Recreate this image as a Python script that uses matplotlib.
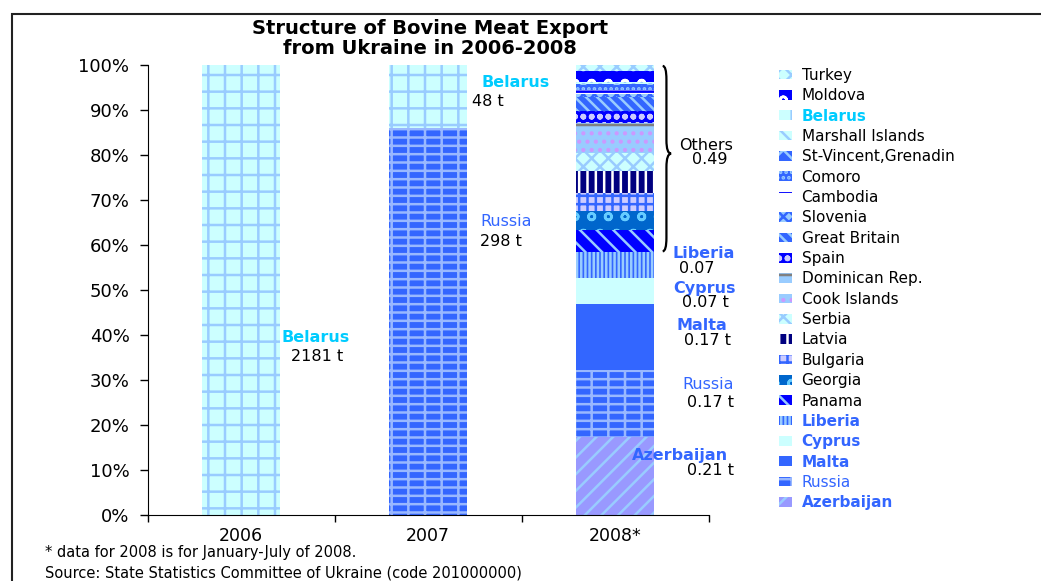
import numpy as np
import matplotlib.pyplot as plt
from matplotlib.path import Path
from matplotlib.patches import PathPatch, Rectangle

# countries from bottom of the stack to top
countries = ['Azerbaijan', 'Russia', 'Malta', 'Cyprus', 'Liberia', 'Panama',
             'Georgia', 'Bulgaria', 'Latvia', 'Serbia', 'Cook Islands',
             'Dominican Rep.', 'Spain', 'Great Britain', 'Slovenia', 'Cambodia',
             'Comoro', 'St-Vincent,Grenadin', 'Marshall Islands', 'Belarus',
             'Moldova', 'Turkey']
years = ['2006', '2007', '2008*']

# shares in %
share_2006 = [0, 0, 0, 0, 0, 0, 0, 0, 0, 0, 0, 0, 0, 0, 0, 0, 0, 0, 0, 100, 0, 0]
share_2007 = [0, 86, 0, 0, 0, 0, 0, 0, 0, 0, 0, 0, 0, 0, 0, 0, 0, 0, 0, 14, 0, 0]
share_2008 = [17.4, 14.8, 14.8, 5.7, 5.8, 4.8, 4.3, 4.0, 4.9, 4.0, 4.9,
              1.7, 2.6, 3.1, 0.8, 0.9, 1.0, 0.3, 0.2, 0.3, 2.3, 1.4]

# fill colour, hatch, hatch colour
styles = {
    'Azerbaijan': ('#9999FF', '//', '#99CCFF'),
    'Russia': ('#3366FF', '--|', '#99B8FF'),
    'Malta': ('#3366FF', None, '#3366FF'),
    'Cyprus': ('#CCFFFF', None, '#CCFFFF'),
    'Liberia': ('#3366FF', '||||', '#99CCFF'),
    'Panama': ('#0000FF', '\\\\', '#99CCFF'),
    'Georgia': ('#0066CC', 'o', '#66CCFF'),
    'Bulgaria': ('#CCCCFF', '++', '#3366FF'),
    'Latvia': ('#000080', '||', '#FFFFFF'),
    'Serbia': ('#CCFFFF', 'xx', '#99CCFF'),
    'Cook Islands': ('#99CCFF', '..', '#CC99FF'),
    'Dominican Rep.': ('#99CCFF', '-', '#808080'),
    'Spain': ('#0000FF', 'oo', '#CCCCFF'),
    'Great Britain': ('#3366FF', '\\\\\\', '#99CCFF'),
    'Slovenia': ('#99CCFF', 'xxx', '#3366FF'),
    'Cambodia': ('#FFFFFF', '-', '#0000FF'),
    'Comoro': ('#3366FF', '...', '#99CCFF'),
    'St-Vincent,Grenadin': ('#3366FF', 'x', '#99CCFF'),
    'Marshall Islands': ('#CCFFFF', '\\\\', '#99CCFF'),
    'Belarus': ('#CCFFFF', '+', '#99CCFF'),
    'Moldova': ('#0000FF', 'o', '#FFFFFF'),
    'Turkey': ('#CCFFFF', 'xx', '#99CCFF'),
}
legend_colors = {'Belarus': ('#00CCFF', 'bold'), 'Liberia': ('#3366FF', 'bold'),
                 'Cyprus': ('#3366FF', 'bold'), 'Malta': ('#3366FF', 'bold'),
                 'Russia': ('#3366FF', 'normal'), 'Azerbaijan': ('#3366FF', 'bold')}

plt.rcParams['font.family'] = 'DejaVu Sans'
plt.rcParams['hatch.linewidth'] = 1.8

fig = plt.figure(figsize=(10.41, 5.81), dpi=100)
ax = fig.add_axes([0.1417, 0.1136, 0.5389, 0.7745])

x = np.arange(len(years))
bottom = np.zeros(len(years))
for i, c in enumerate(countries):
    vals = np.array([share_2006[i], share_2007[i], share_2008[i]], dtype=float)
    fc, h, hc = styles[c]
    ax.bar(x, vals, 0.42, bottom=bottom, color=fc, hatch=h, edgecolor=hc,
           linewidth=0, label=c)
    bottom += vals

ax.set_xlim(-0.5, 2.5)
ax.set_ylim(0, 100)
ax.set_yticks(range(0, 101, 10))
ax.set_yticklabels([f'{v}%' for v in range(0, 101, 10)], fontsize=13)
ax.tick_params(axis='y', length=6, width=1, pad=7)
ax.set_xticks([-0.5, 0.5, 1.5, 2.5])
ax.set_xticklabels([])
ax.tick_params(axis='x', which='major', length=5, width=1)
ax.set_xticks(x, minor=True)
ax.set_xticklabels(years, minor=True, fontsize=12.5)
ax.tick_params(axis='x', which='minor', length=0, pad=9)
for s in ['top', 'right']:
    ax.spines[s].set_visible(False)

# value labels
blue = '#3366FF'
cyan = '#00CCFF'
notes = [
    (0.398, 39.5, 'Belarus', cyan, 'bold'), (0.406, 35.2, '2181 t', 'black', 'normal'),
    (1.468, 96.2, 'Belarus', cyan, 'bold'), (1.318, 91.9, '48 t', 'black', 'normal'),
    (1.42, 65.3, 'Russia', blue, 'normal'), (1.388, 60.8, '298 t', 'black', 'normal'),
    (2.489, 82.2, 'Others', 'black', 'normal'), (2.508, 78.9, '0.49', 'black', 'normal'),
    (2.476, 58.1, 'Liberia', blue, 'bold'), (2.436, 54.8, '0.07', 'black', 'normal'),
    (2.476, 50.3, 'Cyprus', blue, 'bold'), (2.484, 47.3, '0.07 t', 'black', 'normal'),
    (2.465, 42.2, 'Malta', blue, 'bold'), (2.497, 38.7, '0.17 t', 'black', 'normal'),
    (2.497, 29.0, 'Russia', blue, 'normal'), (2.508, 25.0, '0.17 t', 'black', 'normal'),
    (2.35, 13.3, 'Azerbaijan', blue, 'bold'), (2.513, 9.9, '0.21 t', 'black', 'normal'),
]
for tx, ty, s, col, w in notes:
    ax.text(tx, ty, s, color=col, fontweight=w, fontsize=11.5,
            ha='center', va='center', clip_on=False)

# brace for "Others"
x0, x1, xt = 2.255, 2.275, 2.30
top, bot, mid = 99.8, 58.6, 80.3
verts = [(x0, top), (x1, top), (x1, top - 3), (x1, mid + 3), (x1, mid), (xt, mid),
         (x1, mid), (x1, mid - 3), (x1, bot + 3), (x1, bot), (x0, bot)]
codes = [Path.MOVETO, Path.CURVE3, Path.CURVE3, Path.LINETO, Path.CURVE3, Path.CURVE3,
         Path.CURVE3, Path.CURVE3, Path.LINETO, Path.CURVE3, Path.CURVE3]
ax.add_patch(PathPatch(Path(verts, codes), fill=False, lw=1.6, ec='black', clip_on=False))

handles, labels = ax.get_legend_handles_labels()
leg = fig.legend(handles[::-1], labels[::-1], loc='upper left',
                 bbox_to_anchor=(0.748, 0.883), frameon=False, fontsize=11,
                 handlelength=0.9, handleheight=0.6, handletextpad=0.6,
                 labelspacing=0.35, borderpad=0, borderaxespad=0)
for t in leg.get_texts():
    if t.get_text() in legend_colors:
        col, w = legend_colors[t.get_text()]
        t.set_color(col)
        t.set_fontweight(w)

fig.text(0.413, 0.934, 'Structure of Bovine Meat Export\nfrom Ukraine in 2006-2008',
         ha='center', va='center', fontsize=14, fontweight='bold', linespacing=1.05)
fig.text(45 / 1041, 1 - 553 / 581, '* data for 2008 is for January-July of 2008.',
         va='center', fontsize=10.5)
fig.text(45 / 1041, 1 - 573 / 581, 'Source: State Statistics Committee of Ukraine (code 201000000)',
         va='center', fontsize=10.5)

fig.add_artist(Rectangle((0.0115, -0.2), 1.2, 0.976 + 0.2, transform=fig.transFigure,
                         fill=False, lw=1.5, ec='#222222'))

fig.savefig('out.png', dpi=100)
